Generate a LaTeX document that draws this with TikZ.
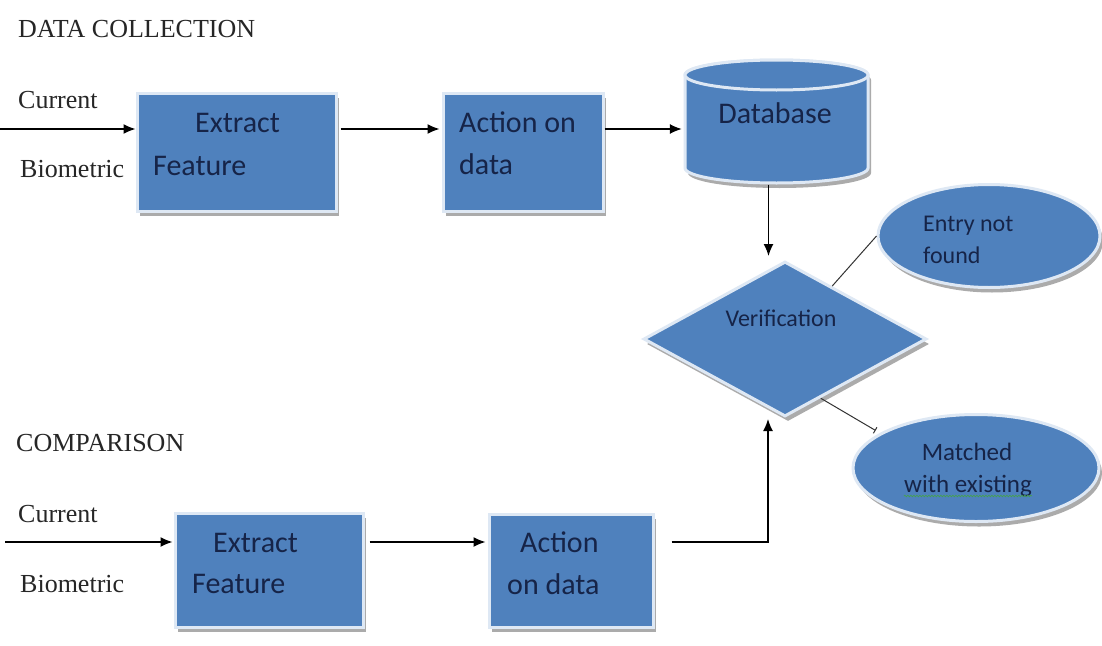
\documentclass[tikz,border=0pt]{standalone}
\usepackage{fontspec}
\setmainfont{Liberation Serif}
\newfontfamily\carlito{Carlito}
\usetikzlibrary{arrows.meta,shapes.geometric,shadows,calc,decorations.pathmorphing}
\definecolor{boxblue}{RGB}{79,129,189}
\definecolor{rimcol}{RGB}{222,232,244}
\definecolor{shadcol}{RGB}{150,150,150}
\definecolor{inkblue}{RGB}{22,36,72}
\definecolor{squig}{RGB}{70,160,80}
\tikzset{
  bluefill/.style={fill=boxblue, draw=rimcol, line width=3pt,
    drop shadow={shadow xshift=3pt, shadow yshift=-5pt, fill=shadcol, opacity=0.8}},
  procbox/.style={bluefill, rectangle, inner sep=0pt},
  decision/.style={bluefill, diamond, inner sep=0pt, minimum width=283pt, minimum height=155pt, aspect=1.83},
  outcome/.style={bluefill, ellipse, inner sep=0pt},
  boxtxt/.style={font=\carlito\fontsize{30}{36}\selectfont, text=inkblue, inner sep=0pt, anchor=base west},
  smalltxt/.style={font=\carlito\fontsize{24}{29}\selectfont, text=inkblue, inner sep=0pt, anchor=base west},
  mtxt/.style={font=\carlito\fontsize{25}{30}\selectfont, text=inkblue, inner sep=0pt, anchor=base},
  lbl/.style={font=\fontsize{26}{31}\selectfont, text=black!85, inner sep=0pt, anchor=base west},
  flow/.style={line width=1.4pt, -{Latex[length=12pt,width=10pt]}},
  tieline/.style={line width=1pt, draw=black!80},
}
\begin{document}
\begin{tikzpicture}[x=1pt,y=-1pt]
\fill[white] (0,0) rectangle (1102,645);
\useasboundingbox (0,0) rectangle (1102,645);

% section labels
\node[lbl] (t1) at (18,37) {DATA COLLECTION};
\node[lbl] (c1) at (18,108) {Current};
\node[lbl] (bm1) at (20,177) {Biometric};
\node[lbl] (t2) at (16,451) {COMPARISON};
\node[lbl] (c2) at (18,522) {Current};
\node[lbl] (bm2) at (20,592) {Biometric};

% boxes
\node[procbox, minimum width=199pt, minimum height=118pt] (ef1) at (236.5,152) {};
\node[procbox, minimum width=160pt, minimum height=118pt] (ad1) at (523,152) {};
\node[procbox, minimum width=188pt, minimum height=114pt] (ef2) at (269,570) {};
\node[procbox, minimum width=164pt, minimum height=113pt] (ad2) at (571,570.5) {};

% database cylinder
\fill[shadcol, opacity=0.8, shift={(3pt,-5pt)}] (685,75) -- (685,168)
  arc[start angle=180,end angle=360,x radius=91.5pt,y radius=15pt] -- (868,75)
  arc[start angle=0,end angle=180,x radius=91.5pt,y radius=15pt] -- cycle;
\filldraw[fill=boxblue, draw=rimcol, line width=3pt] (685,75) -- (685,168)
  arc[start angle=180,end angle=360,x radius=91.5pt,y radius=15pt] -- (868,75)
  arc[start angle=0,end angle=180,x radius=91.5pt,y radius=15pt] -- cycle;
\filldraw[fill=boxblue, draw=rimcol, line width=3pt] (776.5,75) ellipse[x radius=91.5pt, y radius=15pt];
\node[inner sep=0pt, minimum width=183pt, minimum height=125pt] (db) at (776.5,122) {};

% decision and outcomes
\node[decision] (ver) at (785,339) {};
\node[outcome, minimum width=222pt, minimum height=103pt] (ent) at (989,236) {};
\node[outcome, minimum width=246pt, minimum height=107pt] (mat) at (976,468) {};

% texts in shapes
\node[boxtxt] (ef1a) at (195,132) {Extract};
\node[boxtxt] (ef1b) at (153,175) {Feature};
\node[boxtxt] (ad1a) at (459,132) {Action on};
\node[boxtxt] (ad1b) at (459,174) {data};
\node[boxtxt] (ef2a) at (213,552) {Extract};
\node[boxtxt] (ef2b) at (192,593) {Feature};
\node[boxtxt] (ad2a) at (520,552) {Action};
\node[boxtxt] (ad2b) at (507,594) {on data};
\node[boxtxt, anchor=base] (dbt) at (775,123) {Database};
\node[smalltxt, anchor=base] (vert) at (781,326) {Verification};
\node[smalltxt] (enta) at (923,231) {Entry not};
\node[smalltxt] (entb) at (923,263) {found};
\node[mtxt] (mata) at (967,460) {Matched};
\node[mtxt] (matb) at (968,492) {with existing};
\draw[squig, line width=0.7pt, decorate, decoration={snake, amplitude=0.8pt, segment length=3pt}]
  ([yshift=-4pt]matb.base west) -- ([yshift=-4pt]matb.base east);

% connectors
\coordinate (in1) at (0,129);
\coordinate (in2) at (5,542);
\draw[flow] (in1) -- (in1 -| ef1.west);
\draw[flow] ([xshift=3pt]in1 -| ef1.east) -- ([xshift=-2pt]in1 -| ad1.west);
\draw[flow] (in1 -| ad1.east) -- ([xshift=-3pt]in1 -| db.west);
\draw[flow] ([xshift=-8pt]db.south) -- ([xshift=-8pt,yshift=4pt]db.south |- ver.north);
\draw[flow] (in2) -- ([xshift=-1pt]in2 -| ef2.west);
\draw[flow] ([xshift=5pt]in2 -| ef2.east) -- ([xshift=-2pt]in2 -| ad2.west);
\draw[flow] ([xshift=17pt]in2 -| ad2.east) -| ([xshift=-17pt,yshift=-1pt]ver.south);
\draw[tieline] ($(ver.north)!0.33!(ver.east)$) -- (ent.west);
\draw[tieline, -{Bar[width=7pt,line width=1pt]}, shorten >=5pt] ($(ver.south)!0.25!(ver.east)$) -- (mat.160);
\end{tikzpicture}
\end{document}
